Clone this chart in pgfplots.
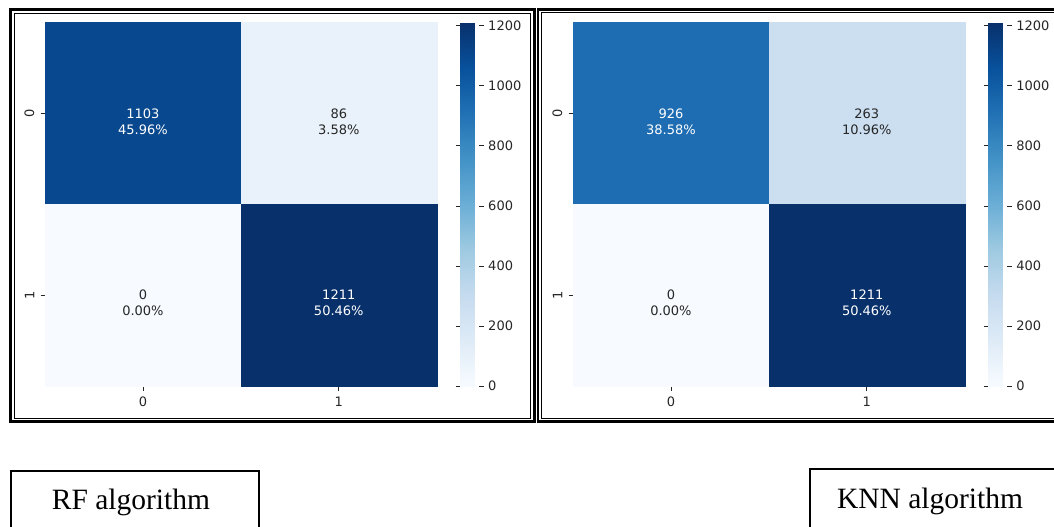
\documentclass[border=0pt]{standalone}
\usepackage{fontspec}
\setmainfont{DejaVu Sans}
\newfontfamily\timesfont{Liberation Serif}
\usepackage{pgfplots}
\usepackage{pgfplotstable}
\pgfplotsset{compat=1.18}

\definecolor{labelgray}{RGB}{38,38,38}

% annotation colour: white on dark cells, dark grey on light cells
\newcommand\notecolor[1]{%
  \pgfmathfloattofixed{#1}%
  \ifdim\pgfmathresult pt>600pt \color{white}\else\color{labelgray}\fi}
% share of all 2400 test samples
\newcommand\notepct[1]{%
  \pgfmathfloattofixed{#1}%
  \pgfmathparse{\pgfmathresult/24}%
  \pgfmathprintnumber[fixed, fixed zerofill, precision=2]{\pgfmathresult}\%}

% cell name above the count
\tikzset{cellname/.style={anchor=center, inner sep=0pt, yshift=16pt,
  font=\fontsize{13}{16}\selectfont}}

\pgfplotsset{
  colormap={blues}{rgb255=(247,251,255) rgb255=(222,235,247) rgb255=(198,219,239)
    rgb255=(158,202,225) rgb255=(107,174,214) rgb255=(66,146,198)
    rgb255=(33,113,181) rgb255=(8,81,156) rgb255=(8,48,107)},
  /pgf/number format/1000 sep={},
  /pgf/number format/assume math mode=true,
  cm/.style={
    scale only axis, width=391.7pt, height=363.5pt, anchor=south west,
    xmin=-0.5, xmax=1.5, ymin=-0.5, ymax=1.5, y dir=reverse,
    enlargelimits=false,
    axis line style={draw=none},
    xtick={0,1}, ytick={0,1},
    tick align=outside, xtick pos=bottom, ytick pos=left,
    major tick length=4.5pt,
    tick style={labelgray, line width=0.8pt},
    ticklabel style={font=\fontsize{13}{16}\selectfont, text=labelgray},
    xticklabel style={inner sep=6pt},
    yticklabel style={rotate=90, anchor=south, inner sep=6pt},
    point meta min=0, point meta max=1211,
    colormap name=blues,
    colorbar,
    colorbar style={
      at={(parent axis.north east)}, anchor=north west, xshift=14.8pt,
      width=19pt,
      axis line style={draw=none},
      ytick={0,200,...,1200},
      tick align=outside, major tick length=4.5pt,
      tick style={labelgray, line width=0.8pt},
      yticklabel pos=right,
      yticklabel style={rotate=0, anchor=west, inner sep=4.5pt,
        font=\fontsize{13}{16}\selectfont, text=labelgray},
    },
  },
  % each cell is one square mark, stretched to the cell's width
  hmcells/.style={
    scatter, only marks, mark=square*, mark size=90.875pt,
    point meta=explicit,
    scatter/use mapped color={draw=mapped color, fill=mapped color},
    mark options={xscale=1.07758, line width=0.4pt},
  },
  hmnotes/.style={
    draw=none, mark=none, point meta=explicit,
    nodes near coords={\notecolor{\pgfplotspointmeta}%
      \pgfmathprintnumber{\pgfplotspointmeta}\\%
      \notecolor{\pgfplotspointmeta}\notepct{\pgfplotspointmeta}},
    every node near coord/.append style={anchor=center, align=center,
      inner sep=0pt, yshift=-8pt, font=\fontsize{13}{16}\selectfont},
  },
}

% Confusion matrices: x = predicted, y = actual, v = count
\pgfplotstableread{
x y v
0 0 1103
1 0 86
0 1 0
1 1 1211
}\rfdata

\pgfplotstableread{
x y v
0 0 926
1 0 263
0 1 0
1 1 1211
}\knndata

\begin{document}
\begin{tikzpicture}[x=1pt, y=1pt]
\path[use as bounding box] (0,0) rectangle (1054,-527);
\clip (0,0) rectangle (1054,-527);

% frames
\draw[line width=3pt] (10.5,-9.5) rectangle (534,-421.5);
\draw[line width=0.9pt] (14,-13) rectangle (530.5,-418);
\draw[line width=2.5pt] (538,-9.5) rectangle (1070,-421.5);
\draw[line width=0.9pt] (541,-12.5) rectangle (1066,-418);

\begin{axis}[cm, at={(45pt,-386pt)}]
  \addplot[hmcells] table[x=x, y=y, meta=v] {\rfdata};
  \addplot[hmnotes] table[x=x, y=y, meta=v] {\rfdata};
  \node[cellname, text=white] at (axis cs:0,0) {True Neg};
  \node[cellname, text=labelgray] at (axis cs:1,0) {False Pos};
  \node[cellname, text=labelgray] at (axis cs:0,1) {False Neg};
  \node[cellname, text=white] at (axis cs:1,1) {True Pos};
\end{axis}

\begin{axis}[cm, at={(573pt,-386pt)}]
  \addplot[hmcells] table[x=x, y=y, meta=v] {\knndata};
  \addplot[hmnotes] table[x=x, y=y, meta=v] {\knndata};
  \node[cellname, text=white] at (axis cs:0,0) {True Neg};
  \node[cellname, text=labelgray] at (axis cs:1,0) {False Pos};
  \node[cellname, text=labelgray] at (axis cs:0,1) {False Neg};
  \node[cellname, text=white] at (axis cs:1,1) {True Pos};
\end{axis}

% captions
\draw[line width=1.2pt] (11,-471) rectangle (259,-560);
\draw[line width=1.2pt] (810,-469) rectangle (1070,-560);
\node[font=\timesfont\fontsize{29.5}{34}\selectfont, anchor=base, inner sep=0pt]
  at (131,-509.5) {RF algorithm};
\node[font=\timesfont\fontsize{29.5}{34}\selectfont, anchor=base, inner sep=0pt]
  at (930,-508) {KNN algorithm};
\end{tikzpicture}
\end{document}
